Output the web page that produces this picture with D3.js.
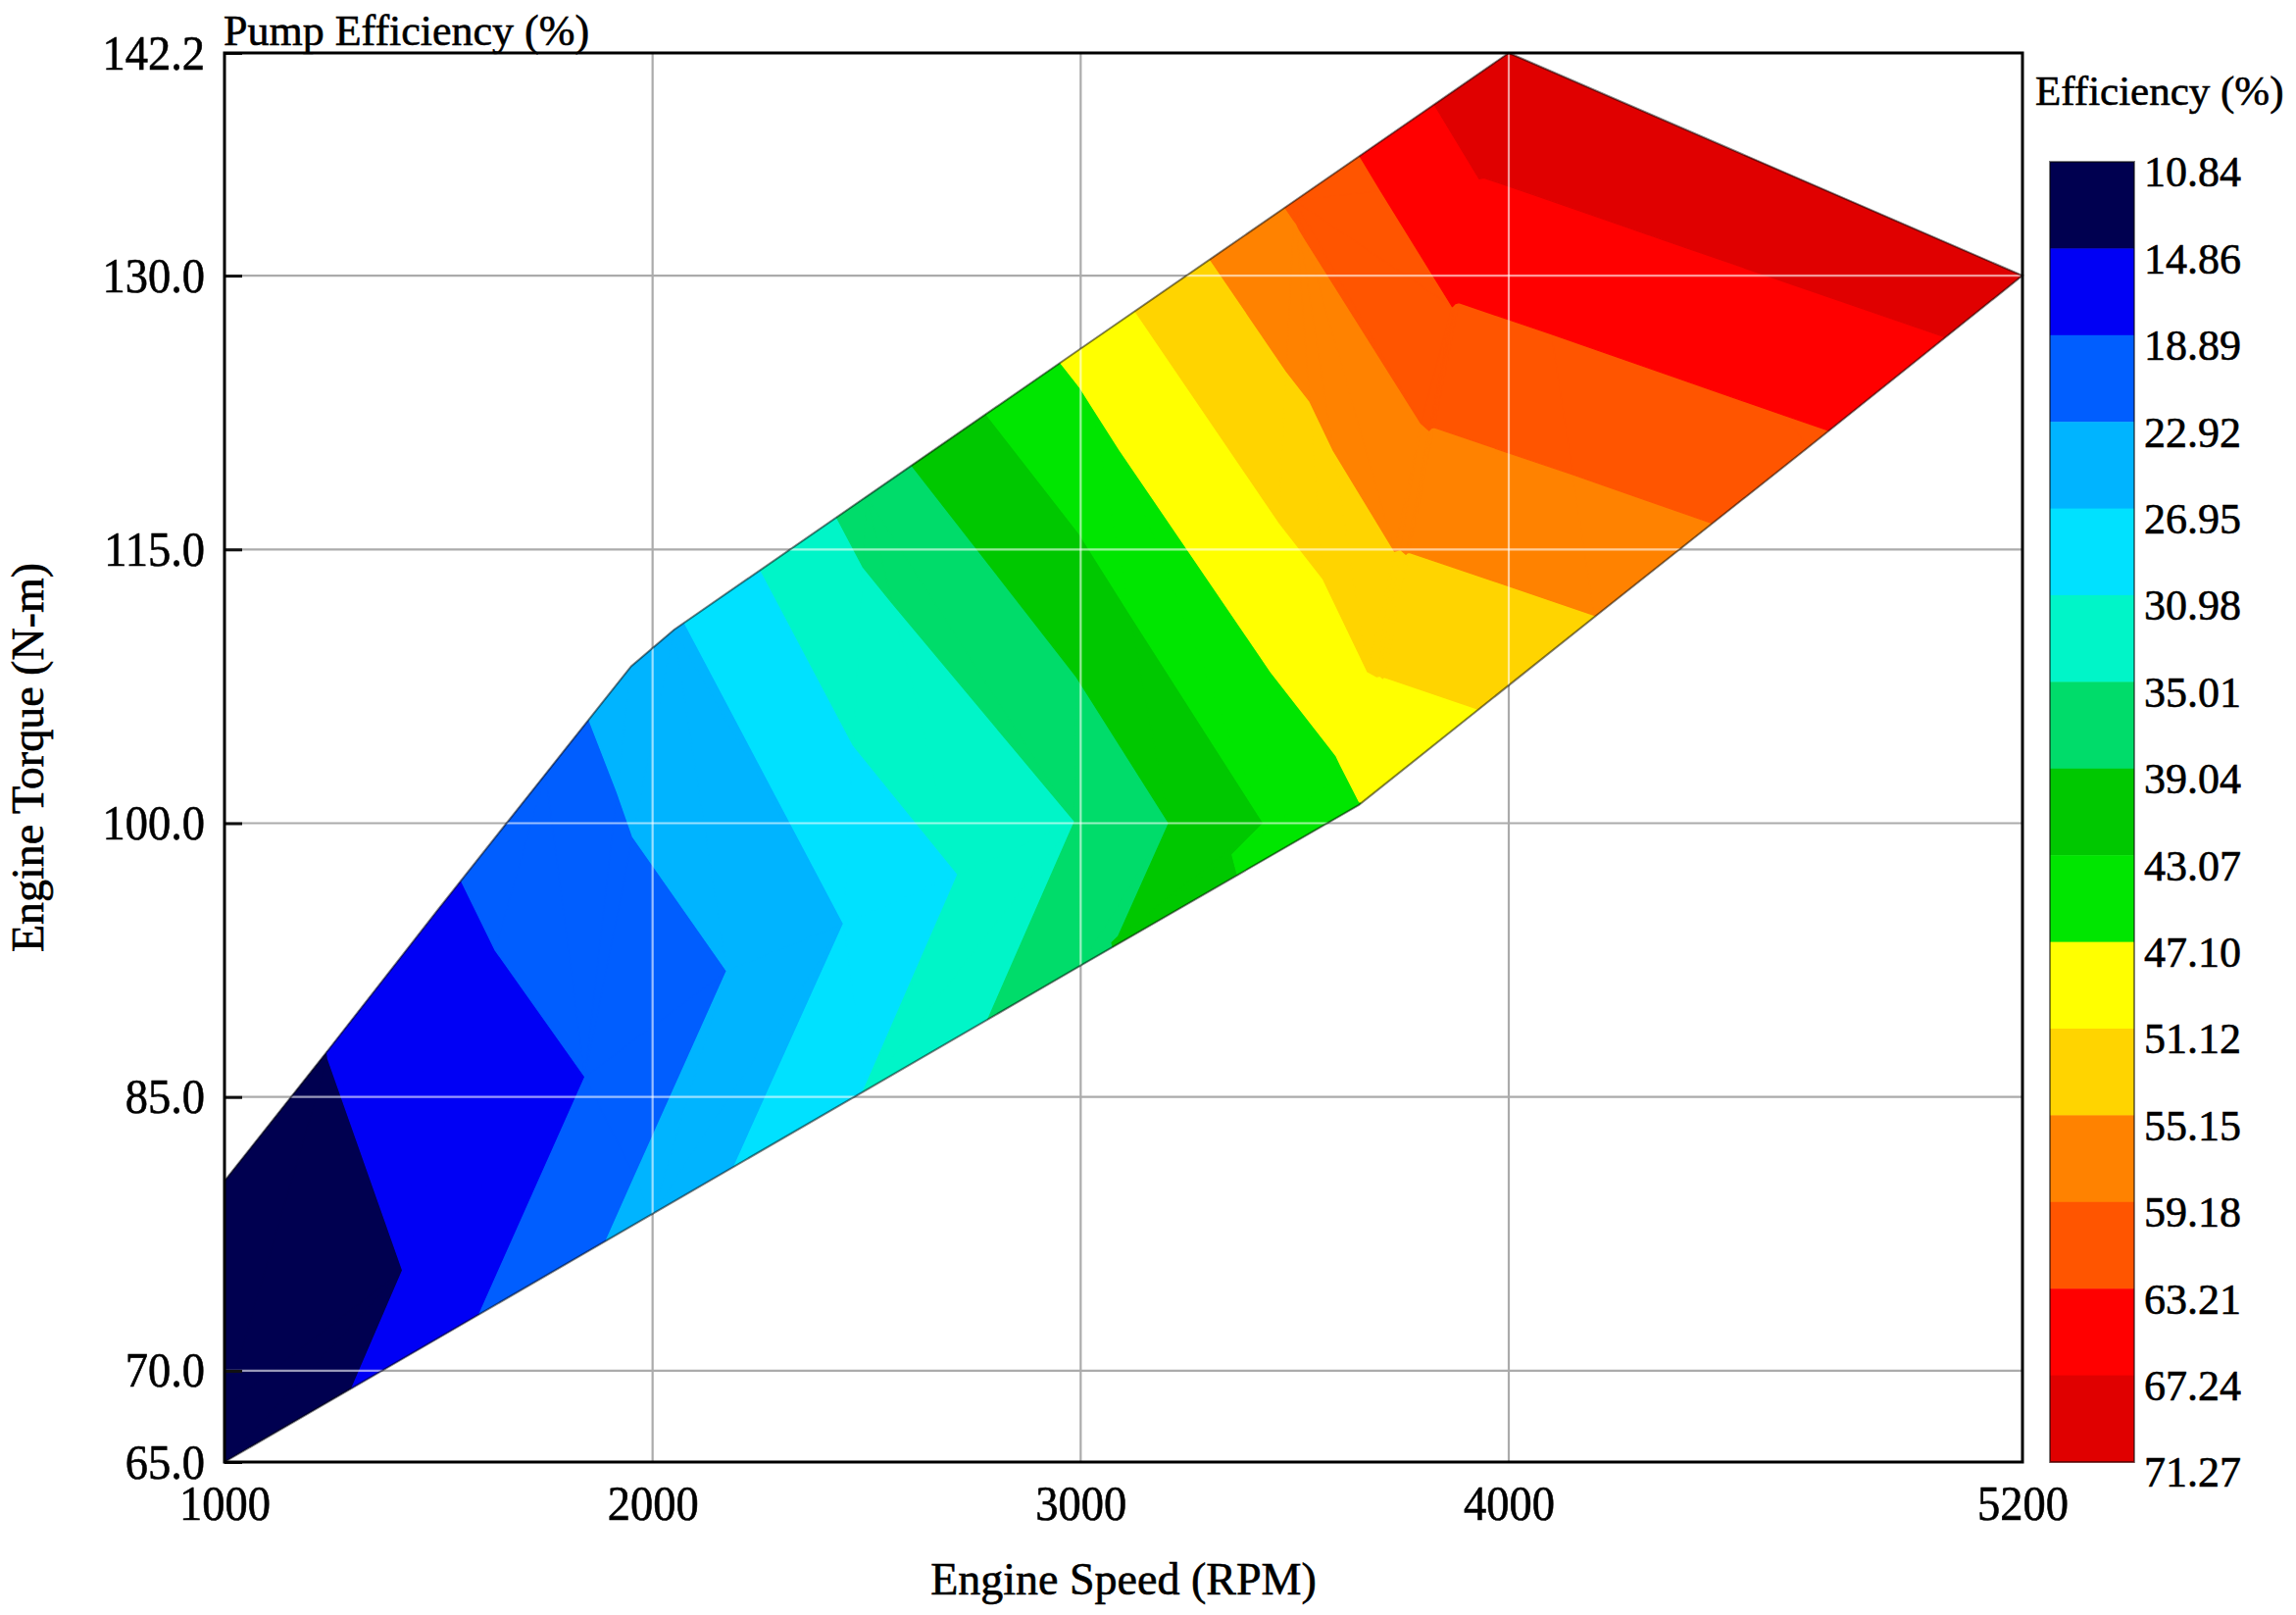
<!DOCTYPE html>
<html><head><meta charset="utf-8">
<script src="https://cdn.jsdelivr.net/npm/d3@7"></script>
<style>
html,body{margin:0;padding:0;background:#fff;}
svg{display:block;font-family:"Liberation Serif","Times New Roman",serif;}
svg text{stroke:#000;stroke-width:0.6px;}
</style></head><body>
<svg id="chart" width="2342" height="1647"></svg>
<script>
// ---------- data ----------
const levels = [10.84,14.86,18.89,22.92,26.95,30.98,35.01,39.04,43.07,47.10,51.12,55.15,59.18,63.21,67.24,71.27];
const bandColors = ["#000050","#0000f5","#005eff","#00b4ff","#00e1ff","#00f5c8","#00dc6a","#00c800","#00e600","#ffff00","#ffd400","#ff8200","#ff5500","#ff0000","#e00000"];
const xTicks = [1000,2000,3000,4000,5200];
const yTicks = [65,70,85,100,115,130,142.2];
const gridX = [2000,3000,4000];
const gridY = [70,85,100,115,130];

// lower edge of the operating region (speed rpm, torque N-m, efficiency %)
const lowerSpeed  = [1000,1500,2000,2500,3000,3650,4200,4700,5200];
const lowerTorque = [65.0,71.8,78.6,85.4,92.2,101.0,111.3,120.6,130.0];
const lowerEff    = [10.84,17.6,24.4,31.1,38.0,47.0,55.1,62.5,69.9];

// inner (valley) line of measured points
const midSpeed  = [1000,1416,1842,2173,2446,2713,2986,3206,3427,3600,3670,3733,3795,3868,3931,4000];
const midTorque = [68.0,75.5,86.1,91.9,94.5,97.2,100.1,100.0,100.0,102.5,108.3,114.9,121.9,128.3,135.3,142.2];
const midEff    = [11.0,14.86,18.89,22.92,26.95,30.98,35.01,39.04,43.07,46.6,51.12,55.15,59.18,63.21,67.24,71.27];

// upper edge (max torque)
const upperSpeed  = [1000,1250,1500,1750,1950,2050,2500,3000,3500,4000];
const upperTorque = [80.4,87.8,95.3,102.7,108.6,110.6,117.9,126.0,134.1,142.2];
const upperEff    = [11.7,15.0,18.3,21.1,24.7,26.4,36.6,48.2,59.7,71.27];

// ---------- layout ----------
const X0 = 229, X1 = 2063, Y0 = 54, Y1 = 1491;
const svg = d3.select("#chart");
const x = d3.scaleLinear().domain([1000,5200]).range([X0,X1]);
const y = d3.scaleLinear().domain([65,142.2]).range([Y1,Y0]);

function nodes(S,T,V){ return S.map((s,i)=>({s:s,t:T[i],v:V[i],x:x(s),y:y(T[i])})); }
const L = nodes(lowerSpeed,lowerTorque,lowerEff);
const M = nodes(midSpeed,midTorque,midEff);
const U = nodes(upperSpeed,upperTorque,upperEff);

function zipper(A,B){
  const tris=[]; let i=0,j=0;
  while(i<A.length-1 || j<B.length-1){
    let advA;
    if(i===A.length-1) advA=false;
    else if(j===B.length-1) advA=true;
    else advA = A[i+1].s <= B[j+1].s;
    if(advA){ tris.push([A[i],A[i+1],B[j]]); i++; }
    else { tris.push([A[i],B[j],B[j+1]]); j++; }
  }
  return tris;
}
const tris = zipper(L,M).concat(zipper(M,U));

function clip(pts, level, dir){
  const out=[];
  for(let i=0;i<pts.length;i++){
    const a=pts[i], b=pts[(i+1)%pts.length];
    const ina=(a.v-level)*dir>=0, inb=(b.v-level)*dir>=0;
    if(ina) out.push(a);
    if(ina!==inb){
      const t=(level-a.v)/(b.v-a.v);
      out.push({x:a.x+t*(b.x-a.x), y:a.y+t*(b.y-a.y), v:level});
    }
  }
  return out;
}

// domain polygon
const domainPts = L.concat(U.slice().reverse());
const line = d3.line().x(d=>d.x).y(d=>d.y);
const domainD = line(domainPts)+"Z";

const defs = svg.append("defs");
defs.append("clipPath").attr("id","domainClip").append("path").attr("d",domainD);

// gray gridlines under the map
const gGrid = svg.append("g").attr("stroke","#ababab").attr("stroke-width",2.2);
gGrid.selectAll("line.gx").data(gridX).join("line").attr("class","gx")
  .attr("x1",d=>x(d)).attr("x2",d=>x(d)).attr("y1",Y0).attr("y2",Y1);
gGrid.selectAll("line.gy").data(gridY).join("line").attr("class","gy")
  .attr("x1",X0).attr("x2",X1).attr("y1",d=>y(d)).attr("y2",d=>y(d));

// filled contour bands
const bandPolys = bandColors.map(()=>[]);
tris.forEach(tri=>{
  for(let k=0;k<bandColors.length;k++){
    let p = tri;
    if(k>0) p = clip(p, levels[k], 1);
    if(p.length>=3 && k<bandColors.length-1) p = clip(p, levels[k+1], -1);
    if(p.length>=3) bandPolys[k].push(p);
  }
});
const gBands = svg.append("g").attr("clip-path","url(#domainClip)");
bandPolys.forEach((polys,k)=>{
  const d = polys.map(p=>"M"+p.map(q=>q.x.toFixed(2)+","+q.y.toFixed(2)).join("L")+"Z").join("");
  gBands.append("path").attr("d",d).attr("fill",bandColors[k])
    .attr("stroke",bandColors[k]).attr("stroke-width",1.2).attr("stroke-linejoin","round");
});

// light gridlines over the map
const gGrid2 = gBands.append("g").attr("stroke","#ffffff").attr("stroke-opacity",0.6).attr("stroke-width",2.2);
gGrid2.selectAll("line.gx").data(gridX).join("line")
  .attr("x1",d=>x(d)).attr("x2",d=>x(d)).attr("y1",Y0).attr("y2",Y1);
gGrid2.selectAll("line.gy").data(gridY).join("line")
  .attr("x1",X0).attr("x2",X1).attr("y1",d=>y(d)).attr("y2",d=>y(d));

// outline of map
svg.append("path").attr("d",domainD).attr("fill","none")
  .attr("stroke","#000").attr("stroke-opacity",0.5).attr("stroke-width",2);

// axes
const SX = 0.93;
const gxAxis = svg.append("g").attr("transform",`translate(0,${Y1})`)
  .call(d3.axisBottom(x).tickValues(xTicks).tickSize(0).tickPadding(24).tickFormat(d3.format("d")));
gxAxis.select(".domain").remove();
gxAxis.attr("font-family",null).attr("font-size",null);
gxAxis.selectAll("text").attr("font-size",50).attr("fill","#000")
  .attr("transform",`scale(${SX},1)`);

const gyAxis = svg.append("g").attr("transform",`translate(${X0},0)`)
  .call(d3.axisLeft(y).tickValues(yTicks).tickSize(-18).tickPadding(20).tickFormat(d3.format(".1f")));
gyAxis.select(".domain").remove();
gyAxis.attr("font-family",null).attr("font-size",null);
gyAxis.selectAll("line").attr("stroke","#111").attr("stroke-width",3);
gyAxis.selectAll("text").attr("font-size",50).attr("fill","#000")
  .attr("x",-20/SX).attr("transform",`scale(${SX},1)`);

// frame
svg.append("rect").attr("x",X0).attr("y",Y0).attr("width",X1-X0).attr("height",Y1-Y0)
  .attr("fill","none").attr("stroke","#000").attr("stroke-width",3);

// titles
svg.append("text").attr("x",228).attr("y",46).attr("font-size",44).text("Pump Efficiency (%)");
svg.append("text").attr("x",(X0+X1)/2).attr("y",1626).attr("text-anchor","middle")
  .attr("font-size",46).text("Engine Speed (RPM)");
svg.append("text").attr("transform",`translate(44,${(Y0+Y1)/2}) rotate(-90)`)
  .attr("text-anchor","middle").attr("font-size",46).text("Engine Torque (N-m)");

// legend
const LX = 2091, LW = 86, LT = 165, LB = 1491;
const segH = (LB-LT)/bandColors.length;
const gLeg = svg.append("g");
gLeg.selectAll("rect").data(bandColors).join("rect")
  .attr("x",LX).attr("y",(d,i)=>LT+i*segH).attr("width",LW).attr("height",segH+0.5)
  .attr("fill",d=>d);
gLeg.append("rect").attr("x",LX).attr("y",LT).attr("width",LW).attr("height",LB-LT)
  .attr("fill","none").attr("stroke","#000").attr("stroke-opacity",0.5).attr("stroke-width",2);
gLeg.selectAll("text.lab").data(levels).join("text").attr("class","lab")
  .attr("x",2187).attr("y",(d,i)=>LT+i*segH+10).attr("dy","0.35em")
  .attr("font-size",44).text(d=>d.toFixed(2));
svg.append("text").attr("x",2076).attr("y",107).attr("font-size",43).text("Efficiency (%)");
</script>
</body></html>
